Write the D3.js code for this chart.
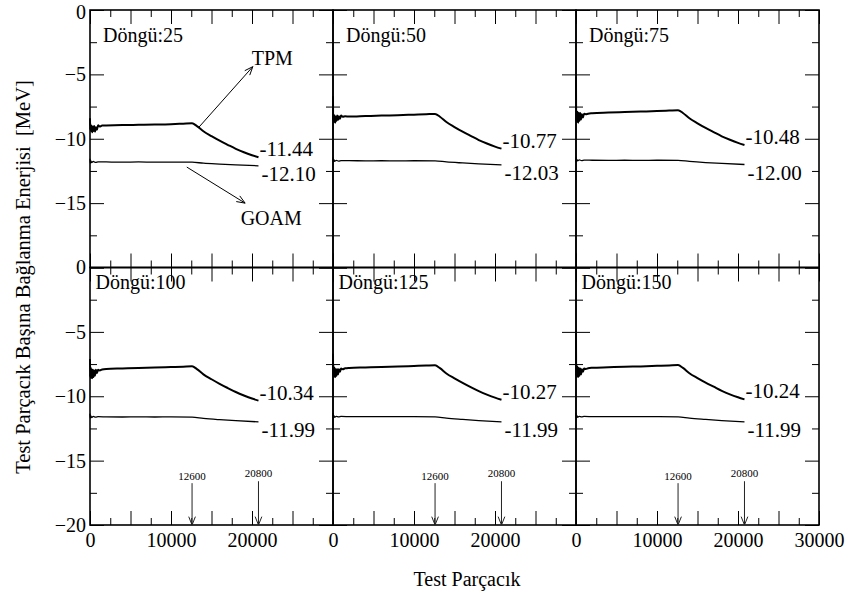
<!DOCTYPE html>
<html><head><meta charset="utf-8">
<script src="https://cdn.jsdelivr.net/npm/d3@7"></script>
<style>
body{margin:0;background:#fff;}
svg text{font-family:"Liberation Serif","Times New Roman",serif;fill:#000;}
</style></head><body>
<svg id="chart" width="850" height="595"></svg>
<script>
// Cycle count of each panel (row-major: top row then bottom row)
const cycles = [25, 50, 75, 100, 125, 150];

// TPM: binding energy per test particle vs. number of test particles
const tpmX = [0, 20, 60, 120, 200, 280, 360, 440, 520, 620, 720, 850, 1000, 1200, 1500,
              2000, 4000, 6000, 8000, 10000, 11500, 12600,
              13200, 14000, 15000, 16000, 17000, 18000, 19000, 20000, 20800];
const tpmY = [
  [-8.4, -9.3, -8.85, -9.4, -9.0, -9.5, -9.05, -9.4, -9.0, -9.45, -9.1, -9.3, -8.95, -9.05, -8.98,
   -8.97, -8.94, -8.92, -8.9, -8.87, -8.83, -8.8,
   -9.02, -9.42, -9.8, -10.15, -10.47, -10.78, -11.05, -11.28, -11.44],
  [-6.7, -8.6, -8.1, -8.7, -8.2, -8.75, -8.3, -8.6, -8.2, -8.55, -8.25, -8.45, -8.2, -8.3, -8.25,
   -8.28, -8.24, -8.2, -8.17, -8.13, -8.1, -8.07,
   -8.29, -8.7, -9.09, -9.45, -9.78, -10.1, -10.37, -10.61, -10.77],
  [-5.2, -8.6, -7.8, -8.7, -7.9, -8.75, -8.0, -8.6, -8.0, -8.5, -8.1, -8.35, -8.05, -8.1, -8.05,
   -8.02, -7.97, -7.93, -7.89, -7.85, -7.81, -7.78,
   -8.0, -8.41, -8.8, -9.16, -9.49, -9.81, -10.08, -10.32, -10.48],
  [-7.1, -8.5, -7.7, -8.6, -7.9, -8.6, -7.95, -8.5, -8.0, -8.4, -7.95, -8.2, -7.95, -8.0, -7.92,
   -7.88, -7.84, -7.8, -7.77, -7.73, -7.7, -7.67,
   -7.89, -8.3, -8.68, -9.03, -9.36, -9.67, -9.94, -10.18, -10.34],
  [-6.7, -8.4, -7.6, -8.5, -7.8, -8.5, -7.9, -8.4, -7.9, -8.3, -7.9, -8.1, -7.85, -7.9, -7.83,
   -7.8, -7.76, -7.72, -7.69, -7.65, -7.62, -7.6,
   -7.82, -8.23, -8.61, -8.96, -9.29, -9.6, -9.87, -10.11, -10.27],
  [-4.9, -8.4, -7.5, -8.5, -7.7, -8.5, -7.8, -8.4, -7.85, -8.3, -7.9, -8.1, -7.85, -7.88, -7.82,
   -7.79, -7.75, -7.71, -7.68, -7.64, -7.61, -7.58,
   -7.8, -8.21, -8.59, -8.94, -9.26, -9.58, -9.85, -10.08, -10.24]
];

// GOAM: same quantity for the comparison model
const goamX = [0, 30, 100, 200, 400, 700, 1000, 2000, 4000, 6000, 8000, 10000, 12600,
               14000, 16000, 18000, 20800];
const goamY = [
  [-11.55, -11.9, -11.72, -11.85, -11.76, -11.84, -11.79, -11.8, -11.82, -11.8, -11.82, -11.81, -11.82, -11.9, -11.97, -12.03, -12.10],
  [-11.45, -11.8, -11.62, -11.76, -11.68, -11.74, -11.7, -11.7, -11.72, -11.71, -11.72, -11.71, -11.72, -11.8, -11.88, -11.95, -12.03],
  [-11.4, -11.78, -11.6, -11.72, -11.64, -11.7, -11.66, -11.67, -11.68, -11.67, -11.68, -11.67, -11.68, -11.76, -11.85, -11.92, -12.00],
  [-11.35, -11.7, -11.52, -11.65, -11.57, -11.62, -11.59, -11.6, -11.61, -11.6, -11.61, -11.6, -11.62, -11.72, -11.82, -11.9, -11.99],
  [-11.3, -11.68, -11.5, -11.63, -11.56, -11.6, -11.57, -11.58, -11.59, -11.58, -11.59, -11.59, -11.6, -11.7, -11.8, -11.89, -11.99],
  [-11.3, -11.68, -11.5, -11.63, -11.56, -11.6, -11.57, -11.58, -11.59, -11.58, -11.59, -11.59, -11.6, -11.7, -11.8, -11.89, -11.99]
];

// Marked particle counts (bottom row) and axis ticks
const markerX = [12600, 20800];
const xMajorTicks = [0, 5000, 10000, 15000, 20000, 25000, 30000];
const xMinorTicks = [2500, 7500, 12500, 17500, 22500, 27500];
const yMajorTicks = [0, -5, -10, -15, -20];
const yMinorTicks = [-2.5, -7.5, -12.5, -17.5];
const xTickLabels = [0, 10000, 20000, 30000];
const yTickLabels = [0, -5, -10, -15, -20];

const svg = d3.select('#chart');
const gridLeft = 90, gridTop = 10, pw = 243, ph = 257.5;
const serif = '"Liberation Serif","Times New Roman",serif';

function arrow(g, x1, y1, x2, y2, color) {
  g.append('line').attr('x1', x1).attr('y1', y1).attr('x2', x2).attr('y2', y2)
    .attr('stroke', color).attr('stroke-width', 1);
  const a = Math.atan2(y2 - y1, x2 - x1), L = 9, h = 0.38;
  const p = [[x2 - L * Math.cos(a - h), y2 - L * Math.sin(a - h)],
             [x2, y2],
             [x2 - L * Math.cos(a + h), y2 - L * Math.sin(a + h)]];
  g.append('path').attr('d', d3.line()(p)).attr('fill', 'none')
    .attr('stroke', color).attr('stroke-width', 1);
}

cycles.forEach((cyc, i) => {
  const col = i % 3, row = Math.floor(i / 3);
  const x0 = gridLeft + col * pw, y0 = gridTop + row * ph;
  const x = d3.scaleLinear().domain([0, 30000]).range([x0, x0 + pw]);
  const y = d3.scaleLinear().domain([-20, 0]).range([y0 + ph, y0]);
  const g = svg.append('g');

  // inward ticks on all four sides
  const strip = s => s.call(a => a.select('.domain').remove()).call(a => a.selectAll('text').remove());
  [[xMajorTicks, 14], [xMinorTicks, 7]].forEach(([tv, len]) => {
    g.append('g').attr('transform', `translate(0,${y0 + ph})`)
      .call(d3.axisBottom(x).tickValues(tv).tickSize(-len)).call(strip);
    g.append('g').attr('transform', `translate(0,${y0})`)
      .call(d3.axisTop(x).tickValues(tv).tickSize(-len)).call(strip);
  });
  [[yMajorTicks, 14], [yMinorTicks, 7]].forEach(([tv, len]) => {
    g.append('g').attr('transform', `translate(${x0},0)`)
      .call(d3.axisLeft(y).tickValues(tv).tickSize(-len)).call(strip);
    g.append('g').attr('transform', `translate(${x0 + pw},0)`)
      .call(d3.axisRight(y).tickValues(tv).tickSize(-len)).call(strip);
  });

  // frame
  g.append('rect').attr('x', x0).attr('y', y0).attr('width', pw).attr('height', ph)
    .attr('fill', 'none').attr('stroke', '#000').attr('stroke-width', 1.6);

  // tick labels on outer edges
  if (row === 1) {
    const tv = col === 2 ? xTickLabels : xTickLabels.slice(0, 3);
    const ax = g.append('g').attr('transform', `translate(0,${y0 + ph})`)
      .call(d3.axisBottom(x).tickValues(tv).tickSize(0).tickPadding(8).tickFormat(d3.format('d')));
    ax.select('.domain').remove();
    ax.attr('font-size', 20).attr('font-family', serif);
  }
  if (col === 0) {
    const tv = row === 1 ? yTickLabels : yTickLabels.slice(0, 4);
    const ay = g.append('g').attr('transform', `translate(${x0},0)`)
      .call(d3.axisLeft(y).tickValues(tv).tickSize(0).tickPadding(4).tickFormat(d3.format('d')));
    ay.select('.domain').remove();
    ay.attr('font-size', 20).attr('font-family', serif);
    // keep the topmost label inside the page
    if (row === 0) ay.selectAll('.tick').filter(d => d === 0).select('text').attr('dy', '0.4em');
  }

  // series
  const tpm = tpmX.map((v, k) => [v, tpmY[i][k]]);
  const goam = goamX.map((v, k) => [v, goamY[i][k]]);
  const line = d3.line().x(d => x(d[0])).y(d => y(d[1])).curve(d3.curveMonotoneX);
  g.append('path').datum(goam).attr('d', line).attr('fill', 'none')
    .attr('stroke', '#000').attr('stroke-width', 1.3);
  g.append('path').datum(tpm).attr('d', line).attr('fill', 'none')
    .attr('stroke', '#000').attr('stroke-width', 2);

  // final values
  const tEnd = tpm[tpm.length - 1], gEnd = goam[goam.length - 1];
  g.append('text').attr('x', x(tEnd[0]) + 1).attr('y', y(tEnd[1]) - 1)
    .attr('font-size', 21).text(tEnd[1].toFixed(2));
  g.append('text').attr('x', x(gEnd[0]) + 3).attr('y', y(gEnd[1]) + 15.5)
    .attr('font-size', 21).text(gEnd[1].toFixed(2));

  // panel caption
  g.append('text').attr('x', x0 + (row === 0 ? 13 : 5.5)).attr('y', y0 + (row === 0 ? 31.5 : 21.5))
    .attr('font-size', 20).text('Döngü:' + cyc);

  // series name callouts
  if (i === 0) {
    arrow(g, x(13450), y(-9.1), x(20100), y(-4.4), '#000');
    arrow(g, x(11950), y(-12.2), x(19150), y(-15.0), '#000');
    g.append('text').attr('x', x(19960)).attr('y', y(-4.27)).attr('font-size', 20).text('TPM');
    g.append('text').attr('x', x(18600)).attr('y', y(-16.7)).attr('font-size', 20).text('GOAM');
  }

  // particle-count markers
  if (row === 1) {
    const tops = [-16.75, -16.6], labs = [-16.54, -16.29];
    markerX.forEach((m, k) => {
      arrow(g, x(m), y(tops[k]), x(m), y(-20), '#222');
      g.append('text').attr('x', x(m)).attr('y', y(labs[k])).attr('text-anchor', 'middle')
        .attr('font-size', 11).text(m);
    });
  }
});

// axis titles
svg.append('text').attr('transform', 'translate(30,277) rotate(-90)')
  .attr('text-anchor', 'middle').attr('font-size', 20.5)
  .text('Test Parçacık Başına Bağlanma Enerjisi\u00a0\u00a0[MeV]');
svg.append('text').attr('x', 467).attr('y', 586).attr('text-anchor', 'middle')
  .attr('font-size', 20).text('Test Parçacık');
</script>
</body></html>
